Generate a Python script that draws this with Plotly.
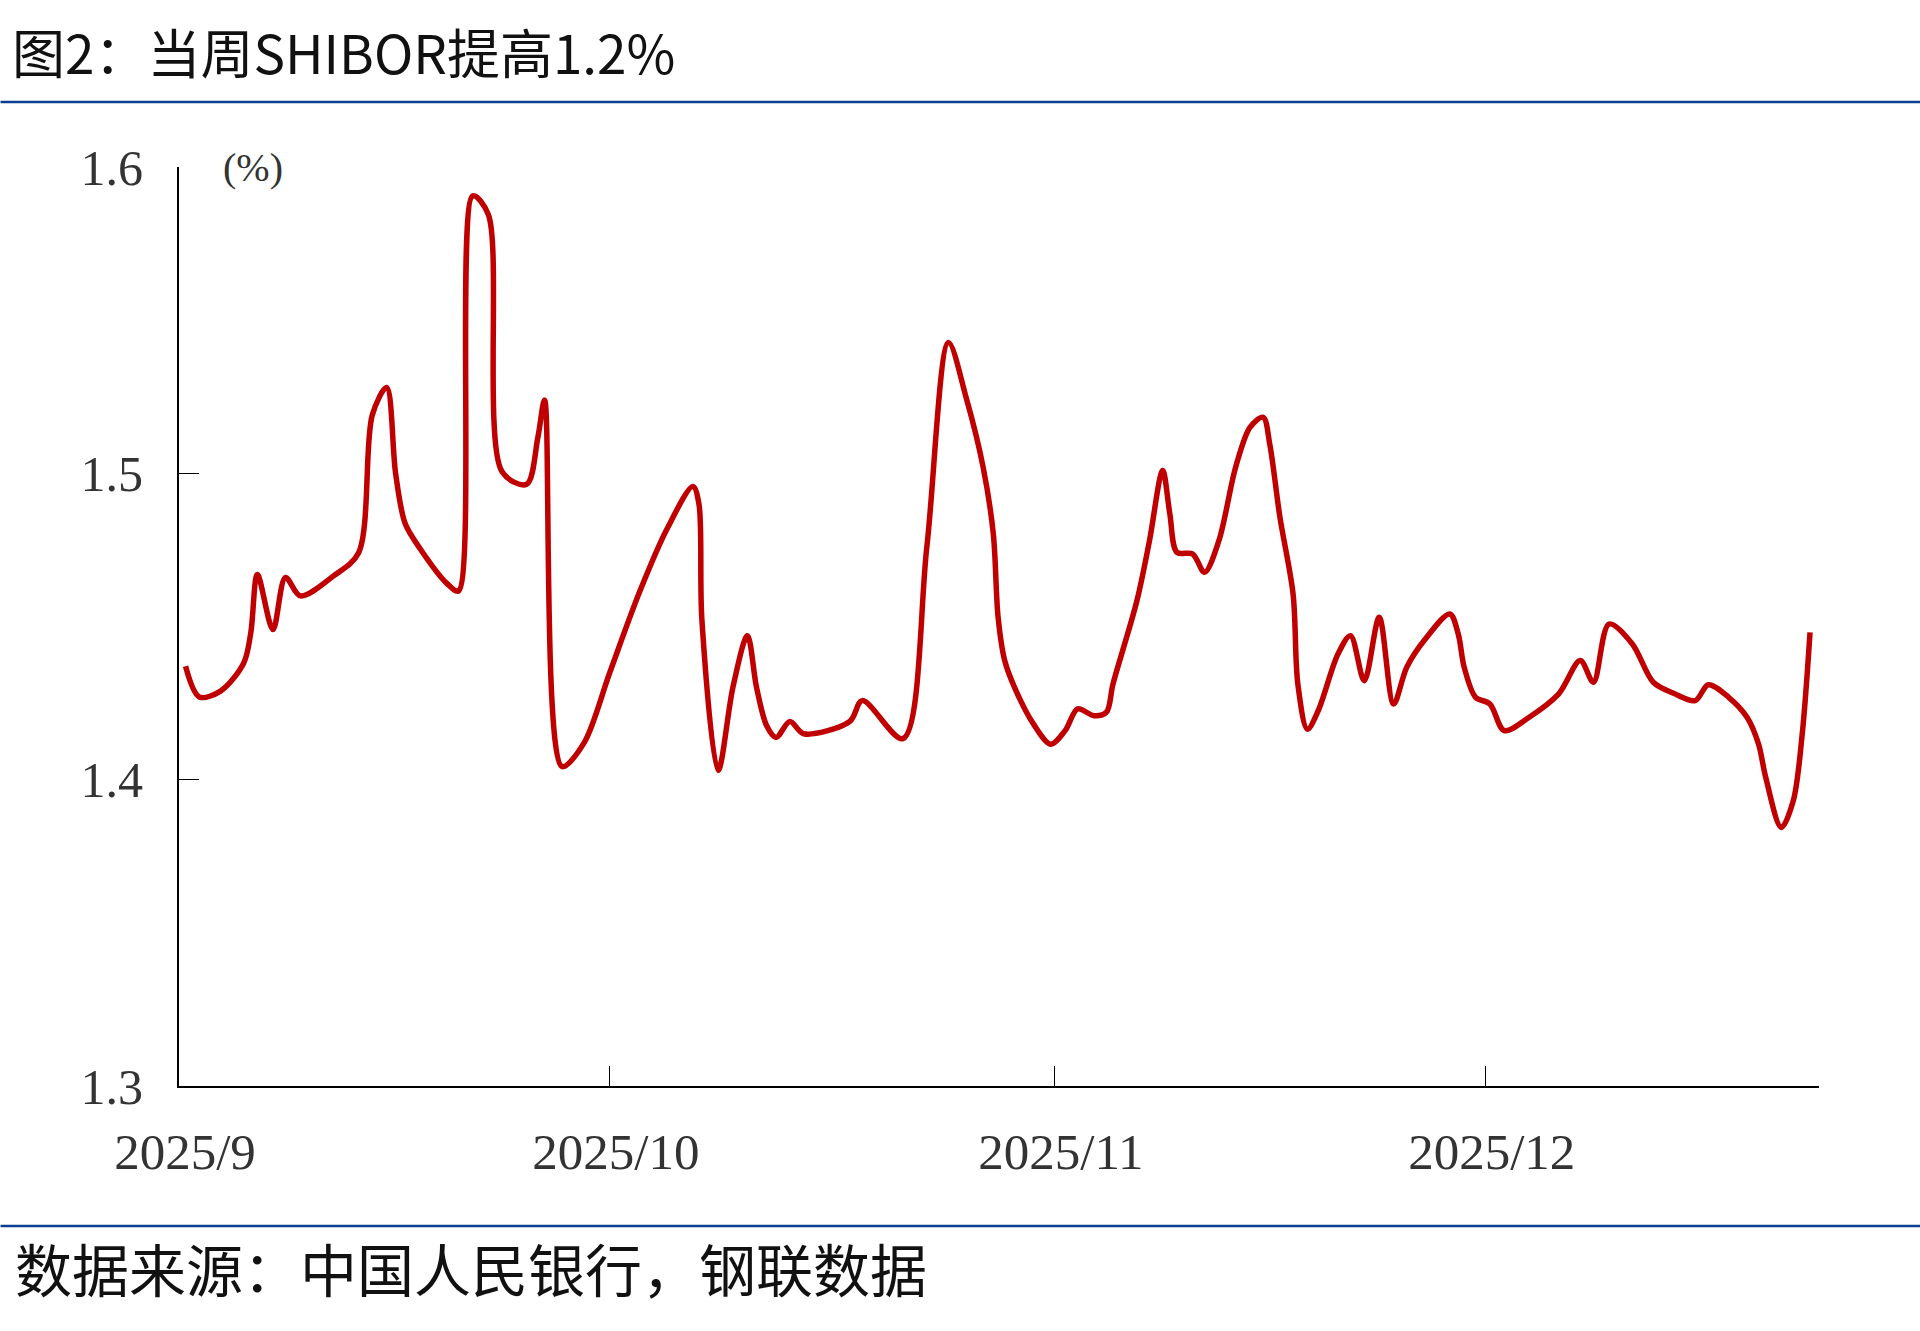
import plotly.graph_objects as go

# ---------------- data ----------------
dates = [
    "2025-09-01 11:00", "2025-09-02 10:00", "2025-09-03 22:00", "2025-09-05 12:00",
    "2025-09-06 00:00", "2025-09-06 11:00", "2025-09-07 13:00", "2025-09-08 10:00",
    "2025-09-09 11:00", "2025-09-11 19:00", "2025-09-13 12:00", "2025-09-14 11:00",
    "2025-09-15 11:00", "2025-09-16 02:00", "2025-09-16 18:00", "2025-09-17 19:00",
    "2025-09-19 16:00", "2025-09-20 11:00", "2025-09-21 11:00", "2025-09-22 13:00",
    "2025-09-23 12:00", "2025-09-25 05:00", "2025-09-26 00:00", "2025-09-26 11:00",
    "2025-09-27 16:00", "2025-09-29 05:00", "2025-10-01 00:00", "2025-10-03 02:00",
    "2025-10-05 00:00", "2025-10-06 19:00", "2025-10-07 05:00", "2025-10-07 10:00",
    "2025-10-08 13:00", "2025-10-09 14:00", "2025-10-10 14:00", "2025-10-11 05:00",
    "2025-10-11 22:00", "2025-10-12 14:00", "2025-10-13 13:00", "2025-10-14 12:00",
    "2025-10-17 17:00", "2025-10-18 14:00", "2025-10-21 10:00", "2025-10-23 02:00",
    "2025-10-24 14:00", "2025-10-25 20:00", "2025-10-27 00:00", "2025-10-27 17:00",
    "2025-10-28 01:00", "2025-10-28 12:00", "2025-10-29 07:00", "2025-10-30 12:00",
    "2025-10-31 17:00", "2025-11-01 17:00", "2025-11-02 14:00", "2025-11-03 17:00",
    "2025-11-04 14:00", "2025-11-05 01:00", "2025-11-06 17:00", "2025-11-07 14:00",
    "2025-11-08 12:00", "2025-11-09 00:00", "2025-11-09 12:00", "2025-11-10 14:00",
    "2025-11-11 10:00", "2025-11-12 10:00", "2025-11-13 14:00", "2025-11-14 14:00",
    "2025-11-15 12:00", "2025-11-15 23:00", "2025-11-16 16:00", "2025-11-17 14:00",
    "2025-11-17 22:00", "2025-11-18 14:00", "2025-11-19 08:00", "2025-11-20 17:00",
    "2025-11-21 14:00", "2025-11-22 13:00", "2025-11-23 14:00", "2025-11-24 14:00",
    "2025-11-25 12:00", "2025-11-26 19:00", "2025-11-28 12:00", "2025-11-29 02:00",
    "2025-11-29 12:00", "2025-11-30 07:00", "2025-12-01 07:00", "2025-12-02 07:00",
    "2025-12-04 00:00", "2025-12-06 02:00", "2025-12-07 14:00", "2025-12-08 12:00",
    "2025-12-09 14:00", "2025-12-11 05:00", "2025-12-12 16:00", "2025-12-14 02:00",
    "2025-12-15 14:00", "2025-12-16 12:00", "2025-12-17 22:00", "2025-12-19 05:00",
    "2025-12-20 00:00", "2025-12-20 12:00", "2025-12-21 14:00", "2025-12-22 10:00",
    "2025-12-23 01:00", "2025-12-23 14:00",
]
shibor = [
    1.437, 1.427, 1.429, 1.438,
    1.448, 1.467, 1.449, 1.466,
    1.460, 1.4666, 1.474, 1.519,
    1.528, 1.500, 1.4836, 1.4754,
    1.464, 1.4616, 1.5906, 1.5845,
    1.5005, 1.4964, 1.512, 1.5239,
    1.4043, 1.412, 1.435, 1.4614,
    1.482, 1.4957, 1.490, 1.452,
    1.403, 1.4304, 1.447, 1.4304,
    1.4177, 1.4138, 1.419, 1.415,
    1.419, 1.4258, 1.4134, 1.4762,
    1.5427, 1.5244, 1.502, 1.4802,
    1.453, 1.4389, 1.429, 1.4182,
    1.4116, 1.416, 1.4231, 1.4209,
    1.422, 1.4312, 1.4584, 1.478,
    1.5009, 1.4868, 1.4742, 1.4737,
    1.4677, 1.478, 1.502, 1.515,
    1.5183, 1.5096, 1.4857, 1.4606,
    1.4312, 1.4165, 1.4225, 1.441,
    1.447, 1.4323, 1.453, 1.4247,
    1.4367, 1.4459, 1.4541, 1.4476,
    1.4367, 1.4269, 1.4247, 1.416,
    1.4203, 1.428, 1.4389, 1.4318,
    1.4508, 1.4443, 1.4318, 1.4282,
    1.4258, 1.431, 1.4269, 1.4203,
    1.4116, 1.4007, 1.3844, 1.3931,
    1.415, 1.4481,
]
x_tick_vals = ["2025-09-01", "2025-10-01", "2025-11-01", "2025-12-01"]
x_tick_text = ["2025/9", "2025/10", "2025/11", "2025/12"]
y_tick_vals = [1.3, 1.4, 1.5, 1.6]
x_range = ["2025-09-01", "2025-12-24 05:00"]
y_range = [1.3, 1.6]

title_text = "图2：当周SHIBOR提高1.2%"
unit_text = "(%)"
source_text = "数据来源：中国人民银行，钢联数据"

# ---------------- layout geometry (pixels) ----------------
W, H = 1920, 1331
L, R = 178.5, 1920 - 1818.8
T, B = 166.7, 1331 - 1086
PW, PH = W - L - R, H - T - B


def px(xp):
    return (xp - L) / PW


def py(yp):
    return (H - B - yp) / PH


CJK = "Noto Sans CJK SC, Noto Sans CJK JP, sans-serif"
SERIF = "Liberation Serif, Times New Roman, serif"
BLUE = "#0d3f8f"

fig = go.Figure()
fig.add_trace(go.Scatter(
    x=dates, y=shibor, mode="lines",
    line=dict(color="#C00000", width=5.5, shape="spline", smoothing=0.9),
    hoverinfo="x+y", showlegend=False,
))

fig.update_layout(
    width=W, height=H,
    margin=dict(l=L, r=R, t=T, b=B, autoexpand=False),
    paper_bgcolor="white", plot_bgcolor="white",
    title=dict(text=title_text, x=12 / W, xanchor="left", xref="container",
               y=1 - 55 / H, yanchor="middle", yref="container",
               font=dict(family=CJK, size=53, color="#111111")),
    xaxis=dict(
        type="date", range=x_range, tickmode="array",
        tickvals=x_tick_vals, ticktext=x_tick_text,
        ticks="inside", ticklen=20, tickwidth=1.3, tickcolor="black",
        showline=True, linecolor="black", linewidth=1.8,
        showgrid=False, zeroline=False,
        tickfont=dict(family=SERIF, size=51, color="#333333"),
        ticklabelstandoff=20, ticklabelshift=6,
    ),
    yaxis=dict(
        range=y_range, tickmode="array", tickvals=y_tick_vals,
        tickformat=".1f",
        ticks="inside", ticklen=20, tickwidth=1.3, tickcolor="black",
        showline=True, linecolor="black", linewidth=1.8,
        showgrid=False, zeroline=False,
        tickfont=dict(family=SERIF, size=50, color="#333333"),
        ticklabelstandoff=24,
    ),
    shapes=[
        dict(type="line", xref="paper", yref="paper",
             x0=px(0), x1=px(W), y0=py(101.6), y1=py(101.6),
             line=dict(color=BLUE, width=2.5)),
        dict(type="line", xref="paper", yref="paper",
             x0=px(0), x1=px(W), y0=py(1226), y1=py(1226),
             line=dict(color=BLUE, width=2.5)),
    ],
    annotations=[
        dict(text=unit_text, xref="paper", yref="paper",
             x=px(253), y=py(167), xanchor="center", yanchor="middle",
             showarrow=False, font=dict(family=SERIF, size=40, color="#333333")),
        dict(text=source_text, xref="paper", yref="paper",
             x=px(12), y=py(1267), xanchor="left", yanchor="middle",
             showarrow=False, font=dict(family=CJK, size=57, color="#111111")),
    ],
)

fig.write_html(
    "out.html",
    config={"displayModeBar": False},
    post_script="document.body.style.margin='0';document.body.style.overflow='hidden';",
)
